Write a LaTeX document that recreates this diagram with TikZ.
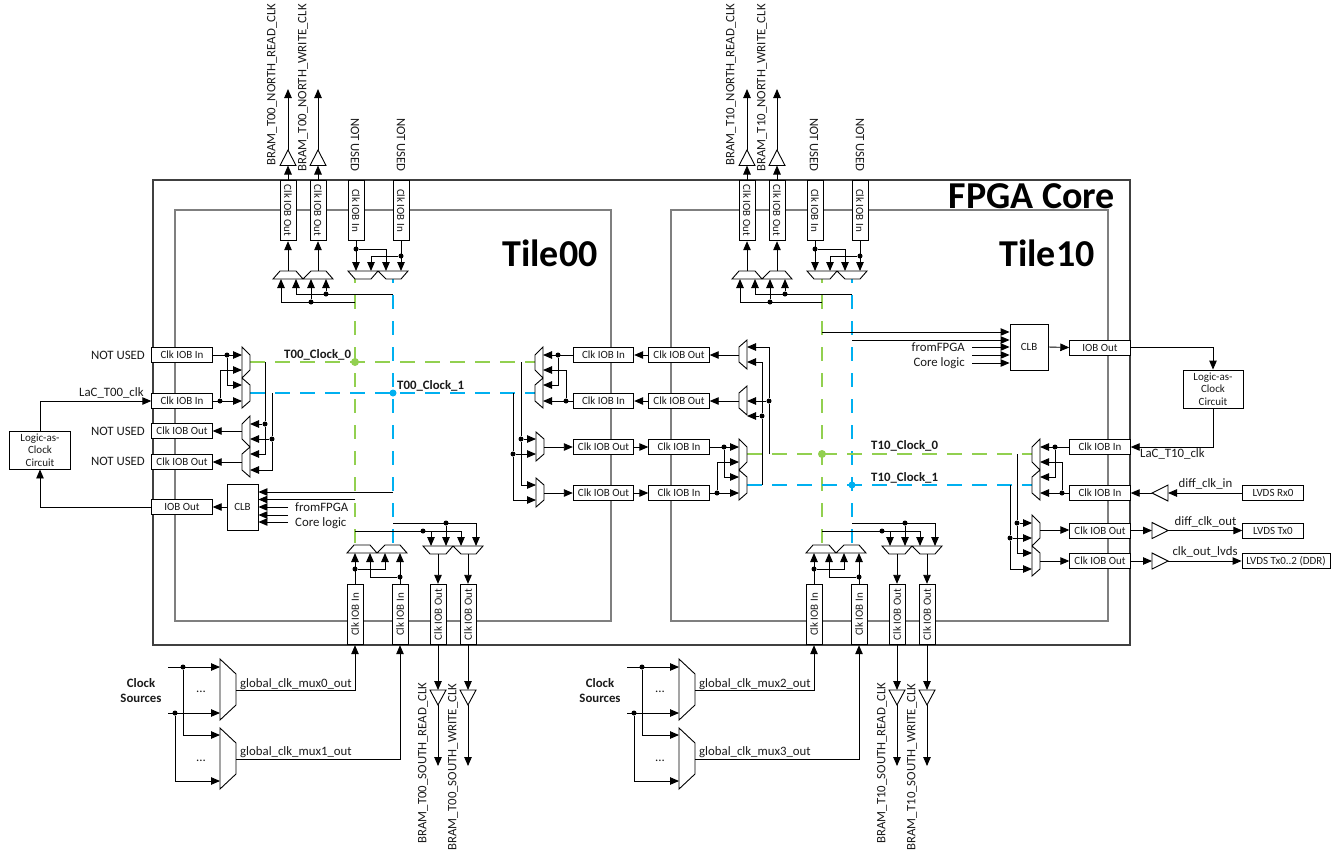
\documentclass[tikz,border=0pt]{standalone}
\usepackage{fontspec}
\setmainfont{Carlito}
\usetikzlibrary{arrows.meta}
\definecolor{gclk}{HTML}{92D050}
\definecolor{bclk}{HTML}{00B0F0}
\definecolor{frameC}{HTML}{404040}
\definecolor{tileC}{HTML}{7F7F7F}
\definecolor{txtC}{HTML}{1A1A1A}
\newcommand\fs[1]{\fontsize{#1}{#1}\selectfont}
\tikzset{
 wire/.style={draw=black,line width=0.9pt},
 arw/.style={wire,-{Triangle[length=9pt,width=7.5pt]}},
 mux/.style={draw=black,line width=0.9pt,fill=white,line join=miter},
 dot/.style={circle,fill=black,inner sep=0pt,minimum size=5pt},
 gdot/.style={circle,fill=gclk,inner sep=0pt,minimum size=8pt},
 bdot/.style={circle,fill=bclk,inner sep=0pt,minimum size=7pt},
 hbox/.style={draw=black,line width=0.9pt,fill=white,inner sep=0pt,minimum width=60.5pt,minimum height=15pt,text=txtC,font=\fs{11}},
 vboxd/.style={hbox,rotate=-90,minimum height=16pt},
 vboxu/.style={hbox,rotate=90,minimum height=16pt},
 lbl/.style={inner sep=0pt,text=txtC,font=\fs{12.8}},
 blbl/.style={inner sep=0pt,text=txtC,font=\fs{12.8}\bfseries},
 gdash/.style={draw=gclk,line width=2.4pt,dash pattern=on 14pt off 12pt,dash phase=5pt},
 bdash/.style={draw=bclk,line width=2.4pt,dash pattern=on 14pt off 12pt,dash phase=5pt},
 ghor/.style={draw=gclk,line width=2.4pt,dash pattern=on 15pt off 10pt},
 bhor/.style={draw=bclk,line width=2.4pt,dash pattern=on 15pt off 10pt},
}
% horizontal-flow mux pair: inputs at x, outputs at x+dir*8
\newcommand\pairH[4]{%
 \draw[mux] (#2,#3) -- ({#2+#4*8},#3+8) -- ({#2+#4*8},#3+23) -- (#2,#3+31) -- ({#2+#4*8},#3+38) -- ({#2+#4*8},#3+54) -- (#2,#3+61) -- cycle;
 \coordinate (#1i1) at (#2,#3+8); \coordinate (#1i2) at (#2,#3+23);
 \coordinate (#1i3) at (#2,#3+38); \coordinate (#1i4) at (#2,#3+54);
 \coordinate (#1o1) at ({#2+#4*8},#3+15); \coordinate (#1o2) at ({#2+#4*8},#3+46);
}
\newcommand\oneH[4]{%
 \draw[mux] (#2,#3) -- ({#2+#4*8},#3+7) -- ({#2+#4*8},#3+22) -- (#2,#3+29) -- cycle;
 \coordinate (#1i1) at (#2,#3+7); \coordinate (#1i2) at (#2,#3+22);
 \coordinate (#1o1) at ({#2+#4*8},#3+15);
}
% vertical-flow mux pair: inputs at y, outputs at y+dir*8
\newcommand\pairV[4]{%
 \draw[mux] (#2,#3) -- (#2+7,{#3+#4*8}) -- (#2+23,{#3+#4*8}) -- (#2+30,#3) -- (#2+38,{#3+#4*8}) -- (#2+53,{#3+#4*8}) -- (#2+60,#3) -- cycle;
 \coordinate (#1i1) at (#2+8,#3); \coordinate (#1i2) at (#2+23,#3);
 \coordinate (#1i3) at (#2+38,#3); \coordinate (#1i4) at (#2+53,#3);
 \coordinate (#1o1) at (#2+15,{#3+#4*8}); \coordinate (#1o2) at (#2+45,{#3+#4*8});
}
\newcommand\bufV[4]{% name,x,ybase,yapex
 \draw[mux] (#2-8,#3) -- (#2+8,#3) -- (#2,#4) -- cycle;
 \coordinate (#1b) at (#2,#3); \coordinate (#1a) at (#2,#4);
}
\newcommand\bufH[4]{% name,y,xbase,xapex
 \draw[mux] (#3,#2-8) -- (#3,#2+8) -- (#4,#2) -- cycle;
 \coordinate (#1b) at (#3,#2); \coordinate (#1a) at (#4,#2);
}
\newcommand\topblock[5]{%
\begin{scope}[xshift=#2pt]
 \node[vboxd] (#1tb1) at (288,210.5) {Clk IOB Out};
 \node[vboxd] (#1tb2) at (318,210.5) {Clk IOB Out};
 \node[vboxd] (#1tb3) at (356,210.5) {Clk IOB In};
 \node[vboxd] (#1tb4) at (401,210.5) {Clk IOB In};
 \pairV{#1po}{273}{279}{-1}
 \pairV{#1pi}{348}{271}{1}
 \bufV{#1bu1}{288}{165.5}{150}
 \bufV{#1bu2}{318}{165.5}{150}
 \coordinate (#1ue1) at (288,89); \coordinate (#1ue2) at (318,89);
 \draw[arw] (#1tb1.west) -- (#1bu1b);
 \draw[arw] (#1tb2.west) -- (#1bu2b);
 \draw[arw] (#1bu1a) -- (#1ue1);
 \draw[arw] (#1bu2a) -- (#1ue2);
 \draw[arw] (#1poo1) -- (#1tb1.east);
 \draw[arw] (#1poo2) -- (#1tb2.east);
 \coordinate (#1tg) at (#3,302); \coordinate (#1tbl) at (393,294);
 \node[dot] (#1d1) at (311,302) {};
 \node[dot] (#1d2) at (326,294) {};
 \draw[arw] (#1tg) -| (#1poi1);
 \draw[arw] (#1tbl) -| (#1poi2);
 \draw[arw] (#1d1) -- (#1poi3);
 \draw[arw] (#1d2) -- (#1poi4);
 \node[dot] (#1d3) at (356,249) {};
 \node[dot] (#1d4) at (401,256) {};
 \draw[arw] (#1tb3.east) -- (#1pii1);
 \draw[arw] (#1tb4.east) -- (#1pii4);
 \draw[arw] (#1d3) -| (#1pii3);
 \draw[arw] (#1d4) -| (#1pii2);
 \node[lbl,rotate=90] at (272,84.5) {#4};
 \node[lbl,rotate=90] at (303,88) {#5};
 \node[lbl,rotate=-90] at (355,145) {NOT USED};
 \node[lbl,rotate=-90] at (401,145) {NOT USED};
\end{scope}}
\newcommand\botblock[7]{%
\begin{scope}[xshift=#2pt]
 \node[vboxu] (#1bb1) at (355,614.5) {Clk IOB In};
 \node[vboxu] (#1bb2) at (400,614.5) {Clk IOB In};
 \node[vboxu] (#1bb3) at (438,614.5) {Clk IOB Out};
 \node[vboxu] (#1bb4) at (468,614.5) {Clk IOB Out};
 \pairV{#1qi}{347}{553}{-1}
 \pairV{#1qo}{423}{546}{1}
 \node[dot] (#1e1) at (355,569) {};
 \node[dot] (#1e2) at (400,577) {};
 \draw[arw] (#1bb1.east) -- (#1qii1);
 \draw[arw] (#1bb2.east) -- (#1qii4);
 \draw[arw] (#1e1) -| (#1qii3);
 \draw[arw] (#1e2) -| (#1qii2);
 \coordinate (#1bg) at (#3,531); \coordinate (#1bbl) at (393,523);
 \node[dot] (#1e3) at (423,531) {};
 \node[dot] (#1e4) at (446,523) {};
 \draw[arw] (#1bg) -| (#1qoi3);
 \draw[arw] (#1qoi1 |- #1bg) -- (#1qoi1);
 \draw[arw] (#1bbl) -| (#1qoi4);
 \draw[arw] (#1e4) -- (#1qoi2);
 \draw[arw] (#1qoo1) -- (#1bb3.east);
 \draw[arw] (#1qoo2) -- (#1bb4.east);
 \bufV{#1bd1}{438}{690}{705}
 \bufV{#1bd2}{468}{690}{705}
 \coordinate (#1de1) at (438,766); \coordinate (#1de2) at (468,766);
 \draw[arw] (#1bb3.west) -- (#1bd1b);
 \draw[arw] (#1bb4.west) -- (#1bd2b);
 \draw[arw] (#1bd1a) -- (#1de1);
 \draw[arw] (#1bd2a) -- (#1de2);
 \node[lbl,rotate=90] at (423,763) {#6};
 \node[lbl,rotate=90] at (453,767) {#7};
 % global clock muxes
 \draw[mux] (220,659) -- (236,674) -- (236,705) -- (220,720) -- cycle;
 \draw[mux] (220,728) -- (236,743) -- (236,774) -- (220,789) -- cycle;
 \coordinate (#1gi1) at (220,667); \coordinate (#1gi2) at (220,713);
 \coordinate (#1gi3) at (220,735); \coordinate (#1gi4) at (220,781);
 \coordinate (#1go1) at (236,690); \coordinate (#1go2) at (236,759);
 \coordinate (#1gs1) at (168,667); \coordinate (#1gs2) at (168,713);
 \node[dot] (#1f1) at (183,667) {};
 \node[dot] (#1f2) at (175,713) {};
 \draw[arw] (#1gs1) -- (#1gi1);
 \draw[arw] (#1gs2) -- (#1gi2);
 \draw[arw] (#1f1) |- (#1gi3);
 \draw[arw] (#1f2) |- (#1gi4);
 \draw[arw] (#1go1) -| (#1bb1.west);
 \draw[arw] (#1go2) -| (#1bb2.west);
 \node[lbl,anchor=west] at (240,684) {#4};
 \node[lbl,anchor=west] at (240,752) {#5};
 \node[lbl] at (201,692) {...};
 \node[lbl] at (201,761) {...};
 \node[blbl,align=center] at (141,690.5) {Clock\\[2.5pt]Sources};
\end{scope}}
\begin{document}
\begin{tikzpicture}[x=1pt,y=-1pt]
\useasboundingbox (0,0) rectangle (1343,852);
% frames
\draw[draw=tileC,line width=1.4pt] (175,210) rectangle (611,621);
\draw[draw=tileC,line width=1.4pt] (671,210) rectangle (1108,621);
\draw[draw=frameC,line width=1.4pt] (153,180) rectangle (1130,645);
% clock distribution
\draw[gdash] (355,274) -- (355,546);
\draw[bdash] (393,274) -- (393,546);
\draw[gdash] (822,274) -- (822,546);
\draw[bdash] (852,274) -- (852,546);
\draw[ghor] (250,362) -- (536,362);
\draw[bhor] (250,393) -- (536,393);
\draw[ghor] (747,454) -- (1032,454);
\draw[bhor] (747,485) -- (1032,485);
\node[gdot] (g00) at (355,362) {};
\node[bdot] (b00) at (393,393) {};
\node[gdot] (g10) at (822,454) {};
\node[bdot] (b10) at (852,485) {};
\node[blbl,anchor=west] at (284,355) {T00\_Clock\_0};
\node[blbl,anchor=west] at (397,386) {T00\_Clock\_1};
\node[blbl,anchor=west] at (871,446) {T10\_Clock\_0};
\node[blbl,anchor=west] at (871,478) {T10\_Clock\_1};
\node[inner sep=0pt,text=black,font=\fs{38}\bfseries,anchor=east] at (1115,196) {FPGA Core};
\node[inner sep=0pt,text=black,font=\fs{38}\bfseries] at (550,253) {Tile00};
\node[inner sep=0pt,text=black,font=\fs{38}\bfseries] at (1047,253) {Tile10};
% tile blocks
\topblock{A}{0}{355}{BRAM\_T00\_NORTH\_READ\_CLK}{BRAM\_T00\_NORTH\_WRITE\_CLK}
\topblock{B}{459}{363}{BRAM\_T10\_NORTH\_READ\_CLK}{BRAM\_T10\_NORTH\_WRITE\_CLK}
\botblock{A}{0}{355}{global\_clk\_mux0\_out}{global\_clk\_mux1\_out}{BRAM\_T00\_SOUTH\_READ\_CLK}{BRAM\_T00\_SOUTH\_WRITE\_CLK}
\botblock{B}{459}{363}{global\_clk\_mux2\_out}{global\_clk\_mux3\_out}{BRAM\_T10\_SOUTH\_READ\_CLK}{BRAM\_T10\_SOUTH\_WRITE\_CLK}
% T00 left edge
\node[hbox] (L1) at (182,355) {Clk IOB In};
\node[hbox] (L2) at (182,401) {Clk IOB In};
\node[hbox] (L3) at (182,431) {Clk IOB Out};
\node[hbox] (L4) at (182,462) {Clk IOB Out};
\node[hbox] (L5) at (182,507) {IOB Out};
\node[hbox,minimum width=61pt,minimum height=38pt,align=center] (Lg) at (40,450) {Logic-as-\\[1.5pt]Clock\\[1.5pt]Circuit};
\node[hbox,minimum width=31pt,minimum height=46pt] (Lc) at (242.5,507) {CLB};
\pairH{li}{242}{347}{1}
\pairH{lo}{250}{416}{-1}
\node[dot] (l1) at (227,355) {};
\node[dot] (l2) at (220,401) {};
\draw[arw] (L1.east) -- (lii1);
\draw[arw] (L2.east) -- (lii4);
\draw[arw] (l1) |- (lii3);
\draw[arw] (l2) |- (lii2);
\coordinate (lg0) at (265,362); \coordinate (lb0) at (272,393);
\node[dot] (l3) at (265,424) {};
\node[dot] (l4) at (272,439) {};
\draw[wire] (lg0) -- (l3);
\draw[wire] (lb0) -- (l4);
\draw[arw] (l3) |- (loi3);
\draw[arw] (l4) |- (loi4);
\draw[arw] (l3) -- (loi1);
\draw[arw] (l4) -- (loi2);
\draw[arw] (loo1) -- (L3.east);
\draw[arw] (loo2) -- (L4.east);
\coordinate (lcb) at (393,492); \coordinate (lcg) at (355,499.5);
\coordinate (lcf1) at (288,507); \coordinate (lcf2) at (288,515); \coordinate (lcf3) at (288,522);
\draw[arw] (lcb) -- (lcb -| Lc.east);
\draw[arw] (lcg) -- (lcg -| Lc.east);
\draw[arw] (lcf1) -- (Lc.east);
\draw[arw] (lcf2) -- (lcf2 -| Lc.east);
\draw[arw] (lcf3) -- (lcf3 -| Lc.east);
\draw[arw] (Lc.west) -- (L5.east);
\draw[arw] (L5.west) -| (Lg.south);
\draw[arw] (Lg.north) |- (L2.west);
\node[lbl,anchor=west] at (295,507) {fromFPGA};
\node[lbl,anchor=west] at (295,523) {Core logic};
\node[lbl,anchor=east] at (145,355) {NOT USED};
\node[lbl,anchor=east] at (145,431) {NOT USED};
\node[lbl,anchor=east] at (145,461) {NOT USED};
\node[lbl,anchor=west] at (79,393) {LaC\_T00\_clk};
% between the tiles
\node[hbox] (M1) at (603.5,355) {Clk IOB In};
\node[hbox] (M2) at (603.5,401) {Clk IOB In};
\node[hbox] (M3) at (603.5,447) {Clk IOB Out};
\node[hbox] (M4) at (603.5,493) {Clk IOB Out};
\node[hbox] (N1) at (679,355) {Clk IOB Out};
\node[hbox] (N2) at (679,401) {Clk IOB Out};
\node[hbox] (N3) at (679,447) {Clk IOB In};
\node[hbox] (N4) at (679,493) {Clk IOB In};
\pairH{mi}{543}{347}{-1}
\oneH{ms1}{536}{432}{1}
\oneH{ms2}{536}{478}{1}
\pairH{ni}{739}{439}{1}
\oneH{ns1}{747}{340}{-1}
\oneH{ns2}{747}{386}{-1}
\draw[arw] (N1.west) -- (M1.east);
\draw[arw] (N2.west) -- (M2.east);
\draw[arw] (M3.east) -- (N3.west);
\draw[arw] (M4.east) -- (N4.west);
\node[dot] (m1) at (558,355) {};
\node[dot] (m2) at (566,401) {};
\draw[arw] (M1.west) -- (mii1);
\draw[arw] (M2.west) -- (mii4);
\draw[arw] (m1) |- (mii3);
\draw[arw] (m2) |- (mii2);
\coordinate (mg0) at (521,362); \coordinate (mb0) at (513,393);
\node[dot] (m3) at (521,439) {};
\node[dot] (m4) at (513,454) {};
\draw[wire] (mg0) -- (m3);
\draw[wire] (mb0) -- (m4);
\draw[arw] (m3) -- (ms1i1);
\draw[arw] (m4) -- (ms1i2);
\draw[arw] (m3) |- (ms2i1);
\draw[arw] (m4) |- (ms2i2);
\draw[arw] (ms1o1) -- (M3.west);
\draw[arw] (ms2o1) -- (M4.west);
\node[dot] (n1) at (724,447) {};
\node[dot] (n2) at (717,493) {};
\draw[arw] (N3.east) -- (nii1);
\draw[arw] (N4.east) -- (nii4);
\draw[arw] (n1) |- (nii3);
\draw[arw] (n2) |- (nii2);
\draw[arw] (ns1o1) -- (N1.east);
\draw[arw] (ns2o1) -- (N2.east);
\coordinate (ng0) at (769,454); \coordinate (nb0) at (762,485);
\node[dot] (n3) at (769,401) {};
\node[dot] (n4) at (762,416) {};
\draw[wire] (ng0) -- (n3);
\draw[wire] (nb0) -- (n4);
\draw[arw] (n3) |- (ns1i1);
\draw[arw] (n4) |- (ns1i2);
\draw[arw] (n3) -- (n3 -| ns2i1);
\draw[arw] (n4) -- (n4 -| ns2i1);
% T10 core logic block
\node[hbox,minimum width=38pt,minimum height=46pt] (Rc) at (1029,347) {CLB};
\node[hbox] (R0) at (1100,347.5) {IOB Out};
\node[hbox,minimum width=60pt,minimum height=38pt,align=center] (Rg) at (1213,389) {Logic-as-\\[1.5pt]Clock\\[1.5pt]Circuit};
\coordinate (rcg) at (822,332); \coordinate (rcb) at (852,340);
\coordinate (rcf1) at (972,347); \coordinate (rcf2) at (972,355); \coordinate (rcf3) at (972,363);
\draw[arw] (rcg) -- (rcg -| Rc.west);
\draw[arw] (rcb) -- (rcb -| Rc.west);
\draw[arw] (rcf1) -- (Rc.west);
\draw[arw] (rcf2) -- (rcf2 -| Rc.west);
\draw[arw] (rcf3) -- (rcf3 -| Rc.west);
\draw[arw] (Rc.east) -- (R0.west);
\draw[arw] (R0.east) -| (Rg.north);
\node[lbl,anchor=east] at (965,347) {fromFPGA};
\node[lbl,anchor=east] at (965,363) {Core logic};
% T10 right edge
\node[hbox] (R1) at (1100,447) {Clk IOB In};
\node[hbox] (R2) at (1100,493) {Clk IOB In};
\node[hbox] (R3) at (1100,530.5) {Clk IOB Out};
\node[hbox] (R4) at (1100,561) {Clk IOB Out};
\node[hbox] (V1) at (1273,493) {LVDS Rx0};
\node[hbox] (V2) at (1273,530.5) {LVDS Tx0};
\node[hbox,minimum width=88pt] (V3) at (1286,561) {LVDS Tx0..2 (DDR)};
\draw[arw] (Rg.south) |- (R1.east);
\pairH{ri}{1040}{439}{-1}
\pairH{ro}{1032}{515}{1}
\node[dot] (r1) at (1055,447) {};
\node[dot] (r2) at (1062,493) {};
\draw[arw] (R1.west) -- (rii1);
\draw[arw] (R2.west) -- (rii4);
\draw[arw] (r1) |- (rii3);
\draw[arw] (r2) |- (rii2);
\coordinate (rg0) at (1017,454); \coordinate (rb0) at (1010,485);
\node[dot] (r3) at (1017,523) {};
\node[dot] (r4) at (1010,538) {};
\draw[wire] (rg0) -- (r3);
\draw[wire] (rb0) -- (r4);
\draw[arw] (r3) -- (roi1);
\draw[arw] (r4) -- (roi2);
\draw[arw] (r3) |- (roi3);
\draw[arw] (r4) |- (roi4);
\draw[arw] (roo1) -- (roo1 -| R3.west);
\draw[arw] (roo2) -- (R4.west);
\bufH{t1}{493}{1168}{1152}
\bufH{t2}{530.5}{1152}{1168}
\bufH{t3}{561}{1152}{1168}
\draw[arw] (V1.west) -- (t1b);
\draw[arw] (t1a) -- (R2.east);
\draw[arw] (R3.east) -- (t2b);
\draw[arw] (t2a) -- (V2.west);
\draw[arw] (R4.east) -- (t3b);
\draw[arw] (t3a) -- (V3.west);
\node[lbl] at (1205.5,484) {diff\_clk\_in};
\node[lbl] at (1205.5,522) {diff\_clk\_out};
\node[lbl] at (1205,552) {clk\_out\_lvds};
\node[lbl,anchor=west] at (1140,454) {LaC\_T10\_clk};
\end{tikzpicture}
\end{document}
